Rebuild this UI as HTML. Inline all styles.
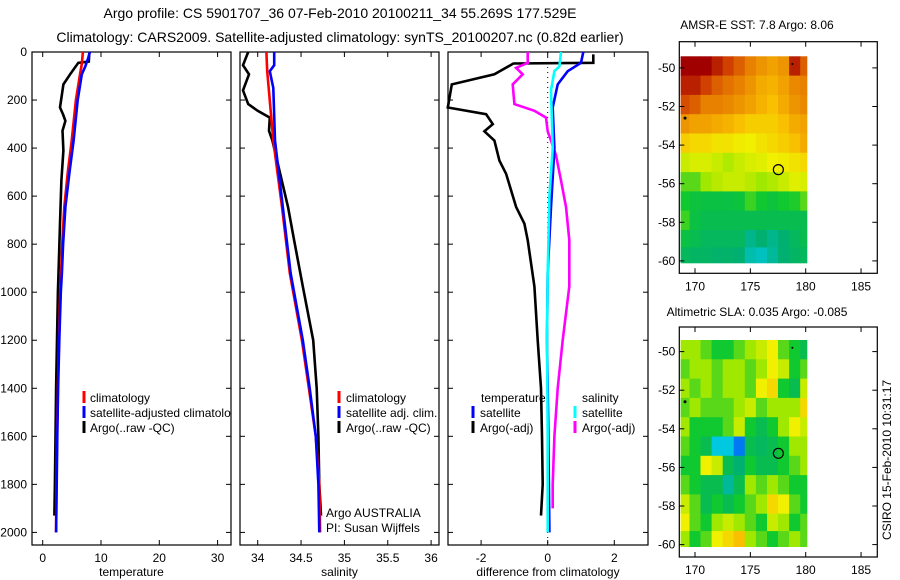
<!DOCTYPE html>
<html><head><meta charset="utf-8">
<style>
html,body{margin:0;padding:0;background:#fff;}
svg{display:block;font-family:"Liberation Sans",sans-serif;}
</style></head>
<body>
<svg id="fig" width="900" height="580" viewBox="0 0 900 580" xmlns="http://www.w3.org/2000/svg">
<text x="340" y="18" font-size="14" text-anchor="middle">Argo profile: CS 5901707_36 07-Feb-2010 20100211_34 55.269S 177.529E</text>
<text x="340" y="42" font-size="14" text-anchor="middle">Climatology: CARS2009. Satellite-adjusted climatology: synTS_20100207.nc (0.82d earlier)</text>
<text x="757" y="29" font-size="12" text-anchor="middle">AMSR-E SST: 7.8 Argo: 8.06</text>
<text x="757" y="316" font-size="12" text-anchor="middle">Altimetric SLA: 0.035 Argo: -0.085</text>
<text transform="translate(891,460) rotate(-90)" font-size="12" text-anchor="middle">CSIRO 15-Feb-2010 10:31:17</text>
<g id="plots"></g>
</svg>
<script>
// ---- profile data (depth in m) ----
const tempClimDepth=[0,50,93,200,369,500,645,800,920,1000,1200,1400,1600,1800,2000];
const tempClim=[6.9,6.7,6.4,5.7,4.97,4.3,3.7,3.35,3.14,3.0,2.8,2.6,2.45,2.35,2.3];
const tempSatDepth=[0,25,60,93,200,369,500,645,800,920,1000,1200,1400,1600,1800,2000];
const tempSat=[8.1,7.8,7.3,6.7,6.0,5.3,4.6,3.9,3.5,3.3,3.1,2.85,2.65,2.5,2.4,2.3];
const tempArgoDepth=[5,40,45,93,135,231,260,287,328,410,535,715,853,1000,1200,1400,1600,1800,1930];
const tempArgo=[8.0,7.9,6.1,4.7,3.55,2.97,3.5,3.9,3.4,3.55,3.2,2.97,2.8,2.6,2.45,2.3,2.2,2.1,2.0];

const salClimDepth=[0,80,369,645,920,1200,1400,1600,1800,2000];
const salClim=[34.10,34.11,34.18,34.28,34.37,34.51,34.59,34.67,34.71,34.72];
const salSatDepth=[0,55,80,150,369,645,920,1200,1400,1600,1800,2000];
const salSat=[34.19,34.19,34.14,34.18,34.2,34.29,34.38,34.52,34.6,34.67,34.7,34.71];
const salArgoDepth=[0,55,93,160,217,245,273,328,369,507,645,783,976,1200,1400,1600,1800,1930];
const salArgo=[33.89,33.83,33.9,33.83,33.89,34.0,34.14,34.13,34.17,34.26,34.35,34.42,34.52,34.64,34.68,34.7,34.71,34.73];

const dTempArgoDepth=[10,45,48,93,135,231,259,300,330,369,452,507,645,715,783,976,1200,1400,1600,1800,1930];
const dTempArgo=[1.37,1.37,-1.03,-1.6,-2.88,-3.0,-1.85,-1.65,-1.9,-1.6,-1.45,-1.25,-0.95,-0.7,-0.6,-0.4,-0.3,-0.2,-0.17,-0.15,-0.2];
const dTempSatDepth=[0,45,80,135,231,400,645,920,1200,1600,2000];
const dTempSat=[1.07,1.0,0.6,0.3,0.15,0.2,0.1,0.0,-0.02,0.02,0.05];
const dSalSatDepth=[0,60,80,160,400,600,920,1200,1600,2000];
const dSalSat=[0.4,0.35,0.2,0.1,0.15,0.05,0.0,-0.02,0.0,0.0];
const dSalArgoDepth=[0,45,66,93,135,217,245,273,330,369,430,535,645,783,976,1200,1400,1600,1800,1900];
const dSalArgo=[-0.6,-0.6,-0.95,-0.75,-1.05,-1.0,-0.4,-0.05,0.0,0.1,0.25,0.4,0.55,0.65,0.65,0.45,0.3,0.2,0.15,0.15];

const depthTicks=[0,200,400,600,800,1000,1200,1400,1600,1800,2000];
const tempTicks=[0,10,20,30];
const salTicks=[34,34.5,35,35.5,36];
const salTickLabels=["34","34.5","35","35.5","36"];
const diffTicks=[-2,0,2];

// ---- map data (rows lat -49.5..-60, cols lon 169..180), colour scale 0..1 ----
const mapLons=[169,170,171,172,173,174,175,176,177,178,179,180];
const mapLats=[-49.9,-50.9,-51.9,-52.9,-53.9,-54.9,-55.9,-56.9,-57.9,-58.9,-59.7];
const sstGrid=[
[1,1,1,0.95,0.9,0.85,0.8,0.75,0.72,0.75,0.95,0.85],
[0.95,0.95,0.9,0.85,0.82,0.8,0.75,0.7,0.68,0.72,0.78,0.8],
[0.88,0.85,0.8,0.8,0.78,0.75,0.72,0.68,0.65,0.7,0.75,0.78],
[0.75,0.72,0.72,0.7,0.68,0.65,0.62,0.62,0.62,0.65,0.7,0.72],
[0.62,0.6,0.6,0.58,0.58,0.56,0.55,0.58,0.6,0.62,0.65,0.7],
[0.5,0.52,0.52,0.5,0.47,0.5,0.52,0.53,0.55,0.56,0.58,0.6],
[0.4,0.4,0.45,0.48,0.5,0.5,0.48,0.45,0.47,0.5,0.53,0.52],
[0.35,0.33,0.32,0.32,0.32,0.33,0.38,0.35,0.33,0.35,0.36,0.4],
[0.38,0.32,0.3,0.3,0.3,0.3,0.3,0.3,0.3,0.3,0.3,0.3],
[0.32,0.3,0.28,0.28,0.28,0.28,0.22,0.25,0.22,0.25,0.28,0.3],
[0.28,0.27,0.27,0.26,0.26,0.25,0.18,0.16,0.2,0.25,0.27,0.28]];
const slaGrid=[
[0.45,0.45,0.4,0.35,0.35,0.4,0.45,0.5,0.55,0.4,0.35,0.3],
[0.4,0.45,0.45,0.4,0.45,0.45,0.4,0.45,0.55,0.5,0.35,0.4],
[0.45,0.4,0.45,0.4,0.45,0.45,0.4,0.55,0.6,0.35,0.3,0.5],
[0.4,0.45,0.4,0.4,0.4,0.45,0.5,0.4,0.45,0.45,0.45,0.6],
[0.45,0.35,0.35,0.35,0.4,0.5,0.35,0.3,0.35,0.45,0.55,0.5],
[0.4,0.35,0.3,0.12,0.12,0.05,0.3,0.28,0.3,0.35,0.45,0.45],
[0.35,0.35,0.55,0.5,0.3,0.25,0.35,0.3,0.3,0.35,0.4,0.45],
[0.4,0.35,0.3,0.3,0.2,0.3,0.45,0.4,0.45,0.4,0.35,0.35],
[0.5,0.4,0.3,0.35,0.3,0.35,0.4,0.45,0.6,0.55,0.4,0.35],
[0.55,0.4,0.35,0.45,0.5,0.45,0.4,0.35,0.5,0.45,0.35,0.4],
[0.45,0.35,0.4,0.55,0.6,0.65,0.45,0.4,0.35,0.4,0.45,0.4]];
const argoLon=177.53, argoLat=-55.27;
const mapXTicks=[170,175,180,185];
const mapYTicks=[-50,-52,-54,-56,-58,-60];

const NS="http://www.w3.org/2000/svg";
const root=document.getElementById('plots');
function mk(tag,attrs,parent){const e=document.createElementNS(NS,tag);for(const k in attrs)e.setAttribute(k,attrs[k]);(parent||root).appendChild(e);return e;}
function txt(x,y,s,size,anchor,parent){const t=mk('text',{x:x,y:y,'font-size':size,'text-anchor':anchor||'start'},parent);t.textContent=s;return t;}

const Y0=52, YS=0.2402, TOP=52, BOT=545;
const yD=d=>Y0+YS*d;
const panels=[
 {name:'temperature',left:32,right:231,x:v=>42.7+5.83*v,ticks:tempTicks,labels:tempTicks.map(String),xlabel:'temperature'},
 {name:'salinity',left:240,right:439,x:v=>257.7+86.7*(v-34),ticks:salTicks,labels:salTickLabels,xlabel:'salinity'},
 {name:'difference',left:448,right:648,x:v=>547.7+33.3*v,ticks:diffTicks,labels:diffTicks.map(String),xlabel:'difference from climatology'}
];
panels.forEach((p,i)=>{
 const g=mk('g',{});
 
 
 const fr=mk('rect',{x:p.left,y:TOP,width:p.right-p.left,height:BOT-TOP,fill:'#fff',stroke:'#000','stroke-width':1.2},g);
 
 
 p.ticks.forEach((t,j)=>{
  const x=p.x(t);
  mk('line',{x1:x,y1:BOT,x2:x,y2:BOT-5,stroke:'#000'},g);
  mk('line',{x1:x,y1:TOP,x2:x,y2:TOP+5,stroke:'#000'},g);
  const l=txt(x,562,p.labels[j],12,'middle',g);
  
  
 });
 depthTicks.forEach(d=>{
  const y=yD(d);
  mk('line',{x1:p.left,y1:y,x2:p.left+5,y2:y,stroke:'#000'},g);
  mk('line',{x1:p.right,y1:y,x2:p.right-5,y2:y,stroke:'#000'},g);
  if(i===0){const l=txt(27,y+4,String(d),12,'end',g);
   
   }
 });
 const xl=txt((p.left+p.right)/2,576,p.xlabel,12,'middle',g);
 
 
});
function series(p,depths,vals,color,name,w){
 const pts=depths.map((d,k)=>p.x(vals[k]).toFixed(1)+','+yD(d).toFixed(1)).join(' ');
 const l=mk('polyline',{points:pts,fill:'none',stroke:color,'stroke-width':w||2.6,'stroke-linejoin':'miter'});
 
 
}
// zero line in diff panel
const zl=mk('line',{x1:panels[2].x(0),y1:TOP,x2:panels[2].x(0),y2:BOT,stroke:'#000','stroke-dasharray':'1,4','stroke-width':1});



series(panels[0],tempArgoDepth,tempArgo,'#000','temperature-argo-line');
series(panels[0],tempClimDepth,tempClim,'#f00','temperature-climatology-line');
series(panels[0],tempSatDepth,tempSat,'#00f','temperature-satellite-line');
series(panels[1],salArgoDepth,salArgo,'#000','salinity-argo-line');
series(panels[1],salClimDepth,salClim,'#f00','salinity-climatology-line');
series(panels[1],salSatDepth,salSat,'#00f','salinity-satellite-line');
series(panels[2],dTempArgoDepth,dTempArgo,'#000','temp-diff-argo-line');
series(panels[2],dSalArgoDepth,dSalArgo,'#f0f','sal-diff-argo-line');
series(panels[2],dTempSatDepth,dTempSat,'#00f','temp-diff-satellite-line');
series(panels[2],dSalSatDepth,dSalSat,'#0ff','sal-diff-satellite-line');

// legends
function legend(x,y,color,label,name){
 const g=mk('g',{});
 
 
 mk('rect',{x:x-1.5,y:y-11,width:3,height:12,fill:color},g);
 txt(x+7,y,label,12,'start',g);
}
const clip=mk('clipPath',{id:'c1'});mk('rect',{x:32,y:0,width:199,height:580},clip);
const lg1=mk('g',{'clip-path':'url(#c1)'});
[['#f00','climatology'],['#00f','satellite-adjusted climatology'],['#000','Argo(..raw -QC)']].forEach((e,k)=>{
 const g=mk('g',{},lg1);
 
 
 mk('rect',{x:82.5,y:391+15*k,width:3,height:12,fill:e[0]},g);
 txt(90,402+15*k,e[1],12,'start',g);
});
[['#f00','climatology'],['#00f','satellite adj. clim.'],['#000','Argo(..raw -QC)']].forEach((e,k)=>legend(339,402+15*k,e[0],e[1],'salinity-legend-entry'));
txt(481,402,'temperature',12,'start');
txt(582,402,'salinity',12,'start');
[['#00f','satellite'],['#000','Argo(-adj)']].forEach((e,k)=>legend(473,417+15*k,e[0],e[1],'diff-temp-legend-entry'));
[['#0ff','satellite'],['#f0f','Argo(-adj)']].forEach((e,k)=>legend(575,417+15*k,e[0],e[1],'diff-sal-legend-entry'));
const a1=txt(326,517,'Argo AUSTRALIA',12,'start');

const a2=txt(326,532,'PI: Susan Wijffels',12,'start');


// colormap
const stops=[[0,[0,64,255]],[0.12,[0,200,224]],[0.25,[0,176,112]],[0.35,[16,200,48]],[0.45,[160,232,0]],[0.55,[240,240,0]],[0.65,[248,192,0]],[0.8,[232,128,0]],[0.9,[208,64,0]],[1,[160,0,0]]];
function cmap(v){for(let i=1;i<stops.length;i++){if(v<=stops[i][0]){const a=stops[i-1],b=stops[i],f=(v-a[0])/(b[0]-a[0]);return 'rgb('+a[1].map((c,k)=>Math.round(c+(b[1][k]-c)*f)).join(',')+')';}}return 'rgb(160,0,0)';}

function drawMap(name,top,bottom,grid){
 const L=679.3,R=877.3;
 const mx=lon=>695+11.07*(lon-170);
 const latY50=top+(bottom-top)*0, sc=19.3;
 const y50= bottom-12.4-sc*10; // lat -50
 const my=lat=>y50+sc*(-50-lat);
 const g=mk('g',{});
 
 
 mk('rect',{x:L,y:top,width:R-L,height:bottom-top,fill:'#fff'},g);
 const lonEdges=[168.7].concat(mapLons.slice(0,-1).map((v,i)=>(v+mapLons[i+1])/2)).concat([180.1]);
 const latEdges=[-49.4].concat(mapLats.slice(0,-1).map((v,i)=>(v+mapLats[i+1])/2)).concat([-60.1]);
 grid.forEach((row,r)=>row.forEach((v,c)=>{
  const x1=mx(lonEdges[c]),x2=mx(lonEdges[c+1]),y1=Math.max(top,my(latEdges[r])),y2=my(latEdges[r+1]);
  const cell=mk('rect',{x:x1.toFixed(1),y:y1.toFixed(1),width:(x2-x1+0.5).toFixed(1),height:(y2-y1+0.5).toFixed(1),fill:cmap(v)},g);
  
  
 }));
 mk('rect',{x:L,y:top,width:R-L,height:bottom-top,fill:'none',stroke:'#000','stroke-width':1.2},g);
 mapXTicks.forEach(t=>{const x=mx(t);
  mk('line',{x1:x,y1:bottom,x2:x,y2:bottom-5,stroke:'#000'},g);
  mk('line',{x1:x,y1:top,x2:x,y2:top+5,stroke:'#000'},g);
  txt(x,bottom+17,String(t),12,'middle',g);});
 mapYTicks.forEach(t=>{const y=my(t);
  mk('line',{x1:L,y1:y,x2:L+5,y2:y,stroke:'#000'},g);
  mk('line',{x1:R,y1:y,x2:R-5,y2:y,stroke:'#000'},g);
  txt(L-4,y+4,String(t),12,'end',g);});
 const c=mk('circle',{cx:mx(argoLon),cy:my(argoLat),r:5,fill:'none',stroke:'#000','stroke-width':1.2},g);
 
 
 mk('circle',{cx:mx(169.1),cy:my(-52.6),r:1.5,fill:'#000'},g);
 mk('circle',{cx:mx(178.8),cy:my(-49.8),r:1,fill:'#000'},g);
}
drawMap('sst',41.7,273.3,sstGrid);
drawMap('sla',327,557,slaGrid);
</script>
</body></html>
